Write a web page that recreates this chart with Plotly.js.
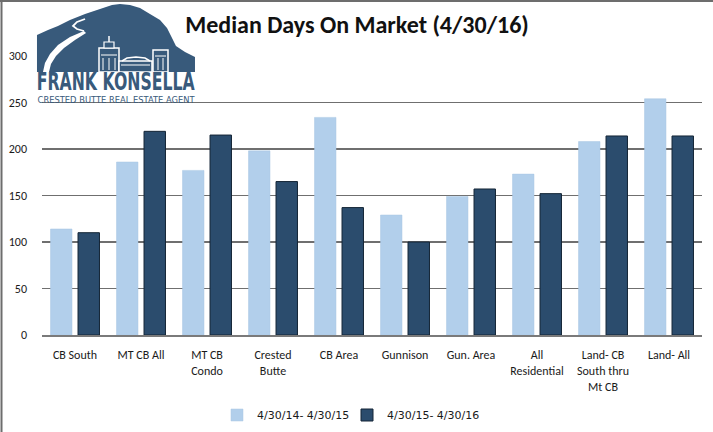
<!DOCTYPE html>
<html>
<head>
<meta charset="utf-8">
<script src="https://cdn.plot.ly/plotly-3.0.1.min.js"></script>
<style>
  html, body { margin: 0; padding: 0; background: #fff; }
  #chart { width: 713px; height: 432px; }
</style>
</head>
<body>
<div id="chart"></div>
<script>
// ---- data ----
const categories = [
  "CB South", "MT CB All", "MT CB<br>Condo", "Crested<br>Butte", "CB Area",
  "Gunnison", "Gun. Area", "All<br>Residential", "Land- CB<br>South thru<br>Mt CB", "Land- All"
];
const seriesNames = ["4/30/14- 4/30/15", "4/30/15- 4/30/16"];
const period1 = [114, 186, 177, 198, 234, 129, 149, 173, 208, 254];
const period2 = [110, 219, 215, 165, 137, 100, 157, 152, 214, 214];
const chartTitle = "Median Days On Market (4/30/16)";
const logoName = "FRANK KONSELLA";
const logoTagline = "CRESTED BUTTE REAL ESTATE AGENT";

// ---- geometry helpers (pixel -> paper) ----
const W = 713, H = 432;
const M = { l: 42, r: 11, t: 56, b: 97, autoexpand: false };
const PW = W - M.l - M.r, PH = H - M.t - M.b;
const px = x => (x - M.l) / PW;
const py = y => (H - M.b - y) / PH;
function path(pts, close) {
  let s = pts.map((p, i) => (i ? "L" : "M") + px(p[0]).toFixed(4) + "," + py(p[1]).toFixed(4)).join(" ");
  return close ? s + " Z" : s;
}
const logoBlue = "#385a7b";

const mountain = [[37,72],[37,35],[48,30],[58,26],[70,20],[85,14],[100,9],[112,5],[120,4],[130,5],[140,8],[150,14],[160,20],[167,28],[171,36],[176,46],[185,52],[195,57],[195,72]];
const roadHook = [[85,19],[77,22],[73,26],[77,29],[84,31]];
const roadBody = [[84,31],[70,37],[58,45],[50,54],[45,63],[43,72],[49,72],[51,64],[56,56],[64,48],[75,40],[86,33]];

const W1 = "#ffffff";
const shapes = [
  // outer frame lines (top & left)
  { type: "line", xref: "paper", yref: "paper", x0: px(0), x1: px(713), y0: py(1), y1: py(1), line: { color: "#6d6d6d", width: 2 }, layer: "above" },
  { type: "line", xref: "paper", yref: "paper", x0: px(1.5), x1: px(1.5), y0: py(0), y1: py(432), line: { color: "#6d6d6d", width: 2 }, layer: "above" },
  // logo mountain
  { type: "path", xref: "paper", yref: "paper", path: path(mountain, true), fillcolor: logoBlue, line: { width: 0 }, layer: "above" },
  // road
  { type: "path", xref: "paper", yref: "paper", path: path(roadHook, false), line: { color: W1, width: 1.8 }, layer: "above" },
  { type: "path", xref: "paper", yref: "paper", path: path(roadBody, true), fillcolor: W1, line: { width: 0 }, layer: "above" },
  // buildings
  { type: "rect", xref: "paper", yref: "paper", x0: px(99), x1: px(119), y0: py(72), y1: py(48), fillcolor: logoBlue, line: { color: W1, width: 1.5 }, layer: "above" },
  { type: "rect", xref: "paper", yref: "paper", x0: px(104), x1: px(114), y0: py(48), y1: py(42), fillcolor: logoBlue, line: { color: W1, width: 1.2 }, layer: "above" },
  { type: "line", xref: "paper", yref: "paper", x0: px(109), x1: px(109), y0: py(42), y1: py(36), line: { color: W1, width: 1.5 }, layer: "above" },
  { type: "line", xref: "paper", yref: "paper", x0: px(103), x1: px(103), y0: py(70), y1: py(58), line: { color: W1, width: 1 }, layer: "above" },
  { type: "line", xref: "paper", yref: "paper", x0: px(109), x1: px(109), y0: py(70), y1: py(58), line: { color: W1, width: 1 }, layer: "above" },
  { type: "line", xref: "paper", yref: "paper", x0: px(115), x1: px(115), y0: py(70), y1: py(58), line: { color: W1, width: 1 }, layer: "above" },
  { type: "line", xref: "paper", yref: "paper", x0: px(101), x1: px(117), y0: py(55), y1: py(55), line: { color: W1, width: 1 }, layer: "above" },
  { type: "rect", xref: "paper", yref: "paper", x0: px(119), x1: px(152), y0: py(72), y1: py(61), fillcolor: logoBlue, line: { color: W1, width: 1.5 }, layer: "above" },
  { type: "path", xref: "paper", yref: "paper", path: path([[122,61],[127,58],[136,57],[145,58],[150,61]], false), line: { color: W1, width: 1.5 }, layer: "above" },
  { type: "line", xref: "paper", yref: "paper", x0: px(121), x1: px(150), y0: py(65), y1: py(65), line: { color: W1, width: 1 }, layer: "above" },
  { type: "rect", xref: "paper", yref: "paper", x0: px(153), x1: px(168), y0: py(72), y1: py(50), fillcolor: logoBlue, line: { color: W1, width: 1.5 }, layer: "above" },
  { type: "line", xref: "paper", yref: "paper", x0: px(155), x1: px(166), y0: py(56), y1: py(56), line: { color: W1, width: 1 }, layer: "above" },
  { type: "line", xref: "paper", yref: "paper", x0: px(158), x1: px(158), y0: py(70), y1: py(58), line: { color: W1, width: 1 }, layer: "above" },
  { type: "line", xref: "paper", yref: "paper", x0: px(163), x1: px(163), y0: py(70), y1: py(58), line: { color: W1, width: 1 }, layer: "above" }
];

const annotations = [
  { xref: "paper", yref: "paper", x: px(116), y: py(82.5), xanchor: "center", yanchor: "middle", showarrow: false,
    text: "<b>" + logoName + "</b>", font: { family: "'DejaVu Sans', sans-serif", size: 24, color: logoBlue } },
  { xref: "paper", yref: "paper", x: px(116), y: py(99.5), xanchor: "center", yanchor: "middle", showarrow: false,
    text: logoTagline, font: { family: "'DejaVu Sans', sans-serif", size: 8.5, color: logoBlue } }
];

const baseFont = "Carlito, Lato, 'Open Sans', sans-serif";

const traces = [
  { type: "bar", name: seriesNames[0], x: categories, y: period1, legend: "legend",
    marker: { color: "#b2cfeb", line: { color: "#a9c6e3", width: 0.5 } }, hoverinfo: "y+name" },
  { type: "bar", name: seriesNames[1], x: categories, y: period2, legend: "legend2",
    marker: { color: "#2b4c6d", line: { color: "#142536", width: 1 } }, hoverinfo: "y+name" }
];

const legendBase = {
  orientation: "h", xanchor: "left", y: py(415), yanchor: "middle",
  font: { family: "'DejaVu Sans', Verdana, sans-serif", size: 11, color: "#1a1a1a" },
  itemwidth: 30, bgcolor: "rgba(0,0,0,0)"
};

const layout = {
  width: W, height: H,
  margin: M,
  paper_bgcolor: "#ffffff", plot_bgcolor: "#ffffff",
  font: { family: baseFont, size: 12, color: "#1a1a1a" },
  title: { text: "<b>" + chartTitle + "</b>", x: px(357), xref: "paper", xanchor: "center", y: 1 - 25 / H, yanchor: "middle",
           font: { family: baseFont, size: 24, color: "#111111" } },
  barmode: "group",
  bargap: 0.167,
  bargroupgap: 0.22,
  xaxis: {
    type: "category",
    showgrid: false,
    showline: true, linecolor: "#7a7a7a", linewidth: 2,
    ticks: "", ticklabelstandoff: 8,
    tickfont: { family: baseFont, size: 12, color: "#1a1a1a" },
    tickangle: 0
  },
  yaxis: {
    range: [0, 300], dtick: 50, tick0: 0,
    showgrid: true, gridcolor: "#6f6f6f", gridwidth: 1.5,
    zeroline: false, showline: false,
    ticks: "", ticklabelstandoff: 14,
    tickfont: { family: baseFont, size: 12, color: "#1a1a1a" }
  },
  showlegend: true,
  legend: Object.assign({}, legendBase, { x: px(217) }),
  legend2: Object.assign({}, legendBase, { x: px(347) }),
  shapes: shapes,
  annotations: annotations
};

Plotly.newPlot("chart", traces, layout, { displayModeBar: false, staticPlot: true }).then(gd => {
  const texts = gd.querySelectorAll(".annotation-text");
  const lens = [158, 157];
  texts.forEach((t, i) => {
    if (i < lens.length) {
      t.setAttribute("textLength", lens[i]);
      t.setAttribute("lengthAdjust", "spacingAndGlyphs");
    }
  });
});
</script>
</body>
</html>
